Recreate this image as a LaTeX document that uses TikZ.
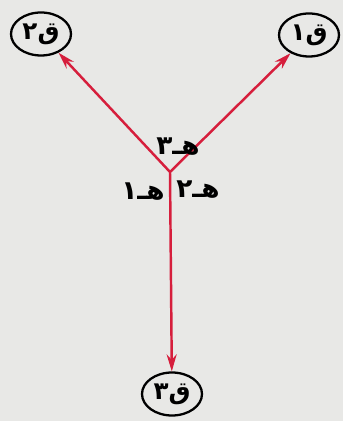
\documentclass[tikz,border=0pt]{standalone}
\usepackage{fontspec}
\newfontfamily\arabicfont[Script=Arabic]{DejaVu Sans}
\TeXXeTstate=1
\usetikzlibrary{shapes.geometric,arrows.meta}

\definecolor{forcered}{RGB}{214,30,60}
\definecolor{paper}{RGB}{232,232,230}

\begin{document}
\begin{tikzpicture}[x=0.02cm, y=-0.02cm,
	force/.style={draw, line width=1.3pt, ellipse, inner sep=1pt, minimum width=1.2cm, minimum height=0.86cm, font=\arabicfont\bfseries\fontsize{14}{16}\selectfont},
	angle/.style={font=\arabicfont\bfseries\fontsize{15}{17}\selectfont},
	vec/.style={draw=forcered, line width=1.4pt, -{Stealth[length=0.34cm, width=0.2cm]}}]
	% Background and frame:
	\fill[paper] (0, 0) rectangle (343, 421);
	\useasboundingbox (0, 0) rectangle (343, 421);
	% Forces:
	\coordinate (o) at (170, 172);
	\node[force] (q2) at (41, 34) {\beginR ق٢\endR};
	\node[force] (q1) at (309, 35) {\beginR ق١\endR};
	\node[force] (q3) at (172, 394) {\beginR ق٣\endR};
	\draw[vec] (o) -- (q2);
	\draw[vec] (o) -- (q1);
	\draw[vec] (o) -- (q3);
	% Angles:
	\node[angle] (h3) at (178, 147) {\beginR هـ٣\endR};
	\node[angle] (h1) at (143, 192) {\beginR هـ١\endR};
	\node[angle] (h2) at (198, 190) {\beginR هـ٢\endR};
\end{tikzpicture}
\end{document}
